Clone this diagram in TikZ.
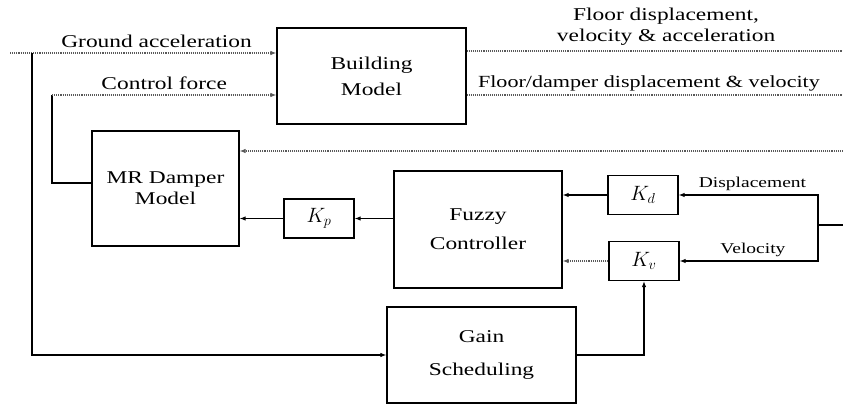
\documentclass[tikz,border=0pt]{standalone}
\usepackage{fontspec}
\setmainfont{Liberation Serif}[FakeStretch=1.3]
\usepackage{tikz}
\usetikzlibrary{arrows.meta}

\begin{document}
\begin{tikzpicture}[x=1pt, y=-1pt, >={Latex[length=6pt, width=4.5pt]},
    block/.style={draw, line width=1.2pt, inner sep=0pt, align=center},
    gainbox/.style={draw, line width=1.2pt, inner sep=0pt, minimum width=70pt,
      minimum height=39pt, font=\fontsize{20}{20}\selectfont},
    sig/.style={densely dotted, line width=1.1pt, gray!70!black},
    wire/.style={line width=1.2pt},
    txt/.style={font=\fontsize{18}{21}\selectfont, align=center, text=black},
    small/.style={font=\fontsize{15}{18}\selectfont}]

    % 画布边界
    \useasboundingbox (0,0) rectangle (843,406);

    % 主要方框
    \node[block, minimum width=189pt, minimum height=96pt,
      font=\fontsize{18}{26}\selectfont] (building) at (371.5,76) {Building\\Model};
    \node[block, minimum width=147pt, minimum height=115pt,
      font=\fontsize{18}{21}\selectfont] (mrd) at (165.5,188.5) {MR Damper\\Model};
    \node[block, minimum width=168pt, minimum height=117pt,
      font=\fontsize{18}{29}\selectfont] (fuzzy) at (478,229.5) {Fuzzy\\Controller};
    \node[block, minimum width=189pt, minimum height=96pt,
      font=\fontsize{18}{33}\selectfont] (gain) at (481.5,355) {Gain\\Scheduling};

    % 增益方框
    \node[gainbox] (kp) at (319,218.5) {$K_p$};
    \node[gainbox] (kd) at (643,195) {$K_d$};
    \node[gainbox] (kv) at (644,261) {$K_v$};

    % 连线的端点
    \coordinate (gastart) at (10,53);
    \coordinate (gabr) at (32,53);
    \coordinate (cfup) at (52,95);
    \coordinate (cfdown) at (52,183);
    \coordinate (out1) at (843,51);
    \coordinate (out2) at (843,95);
    \coordinate (fbin) at (843,151);
    \coordinate (split) at (818,225);
    \coordinate (sin) at (843,225);

    % 地面加速度与控制力
    \draw[sig, ->] (gastart) -- (building.west |- gastart)
      node[txt, pos=0.55, above=1pt] {Ground acceleration};
    \draw[wire, ->] (gabr) |- (gain.west);
    \draw[wire] (mrd.west |- cfdown) -- (cfdown) -- (cfup);
    \draw[sig, ->] (cfup) -- (building.west |- cfup)
      node[txt, pos=0.5, above=1pt] {Control force};

    % 结构输出
    \draw[sig] (building.east |- out1) -- (out1)
      node[txt, pos=0.53, above=2pt] {Floor displacement,\\velocity \& acceleration};
    \draw[sig] (building.east |- out2) -- (out2)
      node[txt, pos=0.02, anchor=south west, font=\fontsize{17}{20}\selectfont]
      {Floor/damper displacement \& velocity};
    \draw[sig, ->] (fbin) -- (mrd.east |- fbin);

    % 控制回路
    \draw[wire, ->] (fuzzy.west |- kp.east) -- (kp.east);
    \draw[wire, ->] (kp.west) -- (mrd.east |- kp.west);
    \draw[wire, ->] (kd.west) -- (fuzzy.east |- kd.west);
    \draw[sig, ->] (kv.west) -- (fuzzy.east |- kv.west);
    \draw[wire] (sin) -- (split);
    \draw[wire, ->] (split) |- (kd.east) node[small, pos=0.735, above] {Displacement};
    \draw[wire, ->] (split) |- (kv.east) node[small, pos=0.735, above] {Velocity};
    \draw[wire, ->] (gain.east) -| (kv.south);

  \end{tikzpicture}
\end{document}
